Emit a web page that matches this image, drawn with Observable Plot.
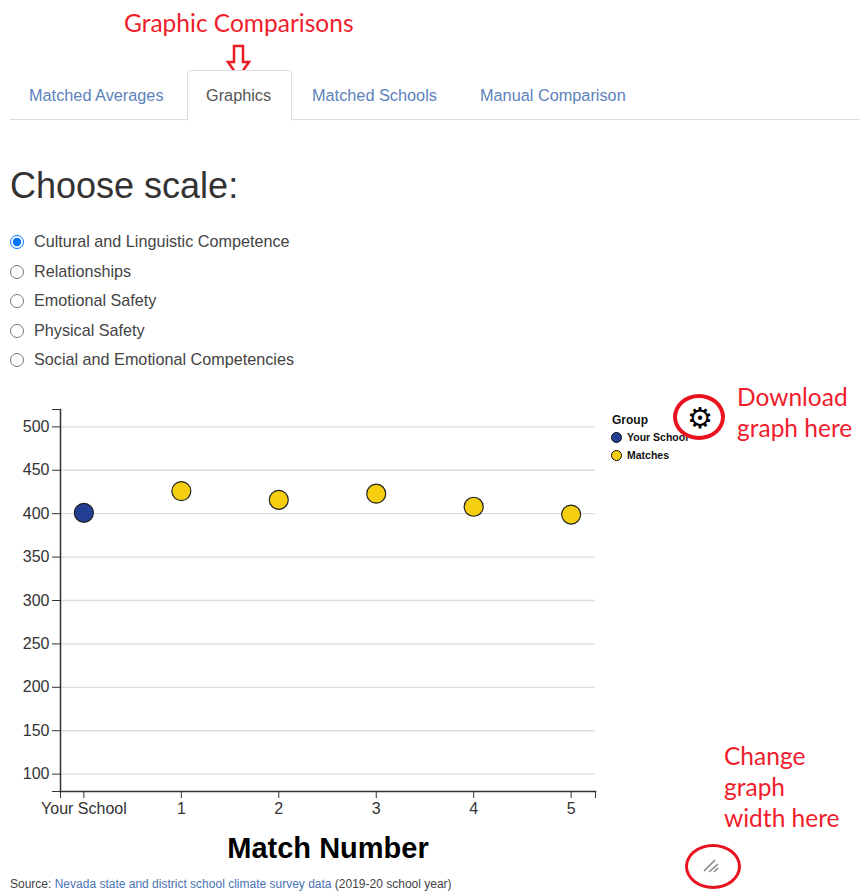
<!DOCTYPE html>
<html><head><meta charset="utf-8">
<script src="https://cdn.jsdelivr.net/npm/d3@7"></script>
<script src="https://cdn.jsdelivr.net/npm/@observablehq/plot@0.6"></script>
<style>
html,body{margin:0;padding:0;background:#fff}
body{position:relative;width:860px;height:891px;overflow:hidden;font-family:"Liberation Sans",Arial,sans-serif;color:#333}
.abs{position:absolute;white-space:nowrap}
.red{color:#f01d2c;font-family:Lato,sans-serif;font-size:24.5px;line-height:31px}
.tab{font-size:16.3px;color:#5d82bb;top:86px}
.radio{font-size:16.2px;color:#444;left:34px}
input[type=radio]{position:absolute;left:10px;margin:0;width:14px;height:14px}
#chart{position:absolute;left:0;top:390px}
a{color:#4a73b5;text-decoration:none}
</style></head><body>
<div class="abs red" style="left:124px;top:7px">Graphic Comparisons</div>
<svg class="abs" style="left:225px;top:44px" width="32" height="38"><path d="M9 2H18V18H24L13.5 33L3 18H9Z" fill="#fff" stroke="#ea1c24" stroke-width="2.5"/></svg>
<div class="abs" style="left:10px;top:119px;width:850px;border-top:1px solid #ddd"></div>
<div class="abs" style="left:187px;top:70px;width:103px;height:49px;border:1px solid #ddd;border-bottom:1px solid #fff;border-radius:4px 4px 0 0;background:#fff"></div>
<div class="abs tab" style="left:29px">Matched Averages</div>
<div class="abs tab" style="left:206px;color:#555">Graphics</div>
<div class="abs tab" style="left:312px">Matched Schools</div>
<div class="abs tab" style="left:480px">Manual Comparison</div>
<div class="abs" style="left:10px;top:165px;font-size:36px;color:#333">Choose scale:</div>
<input type="radio" name="s" checked style="top:235px"><div class="abs radio" style="top:232px">Cultural and Linguistic Competence</div>
<input type="radio" name="s" style="top:265px"><div class="abs radio" style="top:262px">Relationships</div>
<input type="radio" name="s" style="top:294px"><div class="abs radio" style="top:291px">Emotional Safety</div>
<input type="radio" name="s" style="top:324px"><div class="abs radio" style="top:321px">Physical Safety</div>
<input type="radio" name="s" style="top:353px"><div class="abs radio" style="top:350px">Social and Emotional Competencies</div>
<div id="chart"></div>
<div class="abs" style="left:612px;top:413px;font-size:12px;font-weight:bold;color:#111">Group</div>
<div class="abs" style="left:611px;top:432px;width:9px;height:9px;border-radius:50%;background:#223f94;border:1px solid #111"></div>
<div class="abs" style="left:627px;top:431px;font-size:10.5px;font-weight:bold;color:#111">Your School</div>
<div class="abs" style="left:611px;top:450px;width:9px;height:9px;border-radius:50%;background:#f5cf0f;border:1px solid #111"></div>
<div class="abs" style="left:627px;top:449px;font-size:10.5px;font-weight:bold;color:#111">Matches</div>
<div class="abs" style="left:673px;top:394px;width:44px;height:38px;border:4px solid #e8131f;border-radius:50%"></div>
<div class="abs" style="left:685px;top:400px;width:30px;text-align:center;font:29px/36px 'DejaVu Sans';color:#000;font-weight:bold">&#9881;</div>
<div class="abs red" style="left:737px;top:381px">Download<br>graph here</div>
<div class="abs red" style="left:724px;top:740px">Change<br>graph<br>width here</div>
<div class="abs" style="left:685px;top:844px;width:50px;height:39px;border:3.5px solid #e8131f;border-radius:50%"></div>
<svg class="abs" style="left:700px;top:856px" width="24" height="20"><path d="M4 15L15 4M9 16L18 8M14 16L18 12" stroke="#888" stroke-width="1.6" fill="none"/></svg>
<div class="abs" style="left:10px;top:877px;font-size:12px;color:#444">Source: <a>Nevada state and district school climate survey data</a> (2019-20 school year)</div>
<script>
const categories = ["Your School", "1", "2", "3", "4", "5"];
const groups = ["Your School", "Matches", "Matches", "Matches", "Matches", "Matches"];
const scores = [401, 426, 416, 423, 408, 399];
const yTicks = [100, 150, 200, 250, 300, 350, 400, 450, 500];
const yDomain = [80, 520];
const xDomain = [-0.24, 5.25];
const rows = categories.map((c, i) => ({i, category: c, group: groups[i], score: scores[i]}));
const xIdx = categories.map((_, i) => i);
const axisColor = "#333";
const plot = Plot.plot({
  width: 860, height: 480,
  marginLeft: 60, marginRight: 265, marginTop: 19, marginBottom: 79,
  style: {fontFamily: "'Liberation Sans',Arial,sans-serif", overflow: "visible", background: "transparent"},
  x: {type: "linear", domain: xDomain, label: null},
  y: {domain: yDomain, label: null},
  color: {domain: ["Your School", "Matches"], range: ["#223f94", "#f5cf0f"]},
  marks: [
    Plot.gridY(yTicks, {stroke: "#dcdcdc", strokeOpacity: 1, strokeWidth: 1.3}),
    Plot.axisY({ticks: yTicks, tickSize: 8, tickPadding: 3, fontSize: 16, stroke: axisColor, fill: "#333", tickFormat: d3.format("d"), label: null}),
    Plot.axisY({ticks: yDomain, tickSize: 8, stroke: axisColor, tickFormat: () => "", label: null}),
    Plot.axisX({ticks: xIdx, tickSize: 7, tickPadding: 4, fontSize: 16, stroke: axisColor, fill: "#333", tickFormat: i => categories[i], label: null}),
    Plot.axisX({ticks: xDomain, tickSize: 7, stroke: axisColor, tickFormat: () => "", label: null}),
    Plot.frame({anchor: "left", stroke: axisColor, strokeWidth: 1.5}),
    Plot.frame({anchor: "bottom", stroke: axisColor, strokeWidth: 1.5}),
    Plot.dot(rows, {x: "i", y: "score", r: 9.5, fill: "group", stroke: "#222", strokeWidth: 1.2}),
    Plot.text(["Match Number"], {frameAnchor: "bottom", dy: 66, fontSize: 29, fontWeight: "bold", fill: "#000"})
  ]
});
document.getElementById("chart").appendChild(plot);
</script>
</body></html>
